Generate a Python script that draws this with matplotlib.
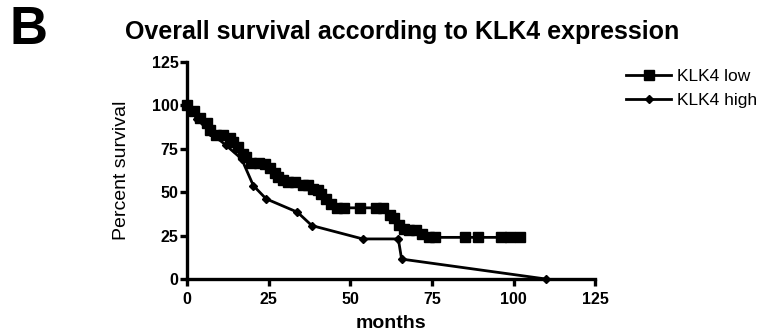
import matplotlib.pyplot as plt

plt.rcParams['font.family'] = ['Liberation Sans', 'DejaVu Sans']

# Kaplan-Meier points (months, percent survival)
months_low = [0, 2, 4, 6, 7, 9, 11, 13, 14, 15.5, 17, 18, 19.5, 22, 24, 25.5, 27, 28,
              29.5, 31, 33, 35.5, 37, 38.5, 40, 41, 42.5, 44, 46, 48, 53, 58, 60, 62,
              63.5, 65, 66.5, 68, 70, 72, 74, 76, 85, 89, 96, 99, 102]
surv_low = [100, 97, 93, 90, 86, 83, 83, 81, 79, 76, 72, 70, 67, 67, 66, 64, 61, 59,
            57, 56, 56, 54, 54, 52, 51, 49, 46, 43, 41, 41, 41, 41, 41, 37,
            35, 31, 29, 28, 28, 26, 24, 24, 24, 24, 24, 24, 24]

months_high = [0, 3, 7, 12, 16.7, 20.3, 24.2, 33.8, 38.2, 53.8, 64.7, 65.7, 110]
surv_high = [100, 92.3, 84.6, 76.9, 69.2, 53.8, 46.2, 38.5, 30.8, 23.1, 23.1, 11.5, 0]

x_ticks = [0, 25, 50, 75, 100, 125]
y_ticks = [0, 25, 50, 75, 100, 125]

fig = plt.figure(figsize=(7.73, 3.33), dpi=100)
ax = fig.add_axes([0.242, 0.162, 0.528, 0.652])

ax.plot(months_low, surv_low, color='black', lw=2, marker='s', ms=6.5,
        label='KLK4 low', clip_on=False)
ax.plot(months_high, surv_high, color='black', lw=2, marker='D', ms=4.5,
        label='KLK4 high', clip_on=False)

ax.set_xlim(0, 125)
ax.set_ylim(0, 125)
ax.set_xticks(x_ticks)
ax.set_yticks(y_ticks)
for s in ['top', 'right']:
    ax.spines[s].set_visible(False)
for s in ['left', 'bottom']:
    ax.spines[s].set_linewidth(2.4)
ax.tick_params(width=2.4, length=5, labelsize=11.5)
ax.tick_params(axis='x', pad=4)
ax.tick_params(axis='y', pad=1)
for lbl in ax.get_xticklabels() + ax.get_yticklabels():
    lbl.set_fontweight('bold')

ax.set_xlabel('months', fontsize=14, fontweight='bold', labelpad=6)
ax.set_ylabel('Percent survival', fontsize=14, labelpad=16)

fig.text(0.012, 0.985, 'B', fontsize=38, fontweight='bold', va='top', ha='left')
fig.text(0.162, 0.905, 'Overall survival according to KLK4 expression',
         fontsize=18, fontweight='bold', va='center', ha='left')

fig.legend(loc='upper left', bbox_to_anchor=(0.79, 0.84), frameon=False,
           fontsize=12.5, handlelength=2.6, handletextpad=0.3, labelspacing=0.5)

fig.savefig('out.png', dpi=100)
